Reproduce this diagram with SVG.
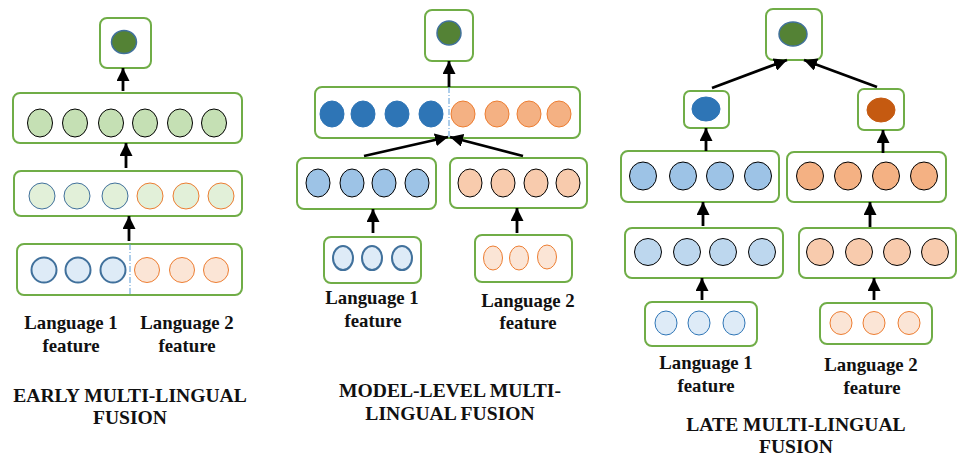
<svg xmlns="http://www.w3.org/2000/svg" width="959" height="459" viewBox="0 0 959 459">
  <style>
    .box { fill: #ffffff; stroke: #70ad47; stroke-width: 2; }
    .out { fill: #548235; stroke: #41719c; stroke-width: 1.5; }
    .c-k { stroke: #000000; stroke-width: 1; }
    .lbl { font-family: "Liberation Serif", "Times New Roman", serif; font-weight: bold; font-size: 18.8px; fill: #111111; text-anchor: middle; }
    .ttl { font-family: "Liberation Serif", "Times New Roman", serif; font-weight: bold; font-size: 19.6px; fill: #111111; text-anchor: middle; }
    .arr { stroke: #000000; stroke-width: 2.8; fill: none; marker-end: url(#head); }
    .split { stroke: #5b9bd5; stroke-width: 1; stroke-dasharray: 6 2 1 2; fill: none; }
  </style>
  <defs>
    <marker id="head" viewBox="0 0 10 10" refX="10" refY="5" markerUnits="userSpaceOnUse" markerWidth="13" markerHeight="13" orient="auto">
      <path d="M0,0 L10,5 L0,10 z" fill="#000000"/>
    </marker>
  </defs>
  <rect width="959" height="459" fill="#ffffff"/>

  <!-- ===== Early fusion ===== -->
  <g id="early-output">
    <rect class="box" x="100" y="18" width="51" height="50" rx="7"/>
    <ellipse class="out" cx="124" cy="42" rx="12.5" ry="11.5"/>
  </g>
  <g id="early-fused">
    <rect class="box" x="13" y="93" width="229" height="50" rx="7"/>
    <g class="c-k" fill="#c5e0b4">
      <ellipse cx="40" cy="123" rx="12.5" ry="14"/>
      <ellipse cx="75" cy="123" rx="12.5" ry="14"/>
      <ellipse cx="111" cy="123" rx="12.5" ry="14"/>
      <ellipse cx="145" cy="123" rx="12.5" ry="14"/>
      <ellipse cx="180" cy="123" rx="12.5" ry="14"/>
      <ellipse cx="214" cy="123" rx="12.5" ry="14"/>
    </g>
  </g>
  <g id="early-hidden">
    <rect class="box" x="14" y="171" width="228" height="45" rx="7"/>
    <g fill="#e2f0d9" stroke-width="1">
      <ellipse cx="42" cy="196" rx="13" ry="13" stroke="#41719c"/>
      <ellipse cx="77" cy="196" rx="13" ry="13" stroke="#41719c"/>
      <ellipse cx="115" cy="196" rx="13" ry="13" stroke="#41719c"/>
      <ellipse cx="150" cy="196" rx="13" ry="13" stroke="#ed7d31"/>
      <ellipse cx="186" cy="196" rx="13" ry="13" stroke="#ed7d31"/>
      <ellipse cx="221" cy="196" rx="13" ry="13" stroke="#ed7d31"/>
    </g>
  </g>
  <g id="early-input">
    <rect class="box" x="17" y="244" width="225" height="51" rx="7"/>
    <g fill="#deebf7" stroke="#41719c" stroke-width="2">
      <ellipse cx="44" cy="270" rx="12.5" ry="12.5"/>
      <ellipse cx="78" cy="270" rx="12.5" ry="12.5"/>
      <ellipse cx="113" cy="270" rx="12.5" ry="12.5"/>
    </g>
    <g fill="#fbe5d6" stroke="#ed7d31" stroke-width="1">
      <ellipse cx="147" cy="270" rx="12.5" ry="12.5"/>
      <ellipse cx="182" cy="270" rx="12.5" ry="12.5"/>
      <ellipse cx="216" cy="270" rx="12.5" ry="12.5"/>
    </g>
    <line class="split" x1="130" y1="244" x2="130" y2="295"/>
  </g>
  <g id="early-labels">
    <text class="lbl" x="71" y="329">Language 1</text>
    <text class="lbl" x="71" y="352">feature</text>
    <text class="lbl" x="187" y="329">Language 2</text>
    <text class="lbl" x="187" y="352">feature</text>
    <text class="ttl" x="130" y="402">EARLY MULTI-LINGUAL</text>
    <text class="ttl" x="130" y="424">FUSION</text>
  </g>

  <!-- ===== Model-level fusion ===== -->
  <g id="model-output">
    <rect class="box" x="425" y="10" width="48" height="51" rx="7"/>
    <ellipse class="out" cx="449" cy="33" rx="12" ry="12"/>
  </g>
  <g id="model-fused">
    <rect class="box" x="315" y="87" width="265" height="51" rx="7"/>
    <g fill="#2e75b6" stroke="#2e75b6" stroke-width="1">
      <ellipse cx="332" cy="114" rx="12" ry="13"/>
      <ellipse cx="363" cy="114" rx="12" ry="13"/>
      <ellipse cx="397" cy="114" rx="12" ry="13"/>
      <ellipse cx="431" cy="114" rx="12" ry="13"/>
    </g>
    <g fill="#f4b183" stroke="#ed7d31" stroke-width="1">
      <ellipse cx="463" cy="114" rx="12" ry="13"/>
      <ellipse cx="497" cy="114" rx="12" ry="13"/>
      <ellipse cx="529" cy="114" rx="12" ry="13"/>
      <ellipse cx="559" cy="114" rx="12" ry="13"/>
    </g>
    <line class="split" x1="449" y1="87" x2="449" y2="138"/>
  </g>
  <g id="model-hidden-1">
    <rect class="box" x="297" y="158" width="139" height="51" rx="7"/>
    <g class="c-k" fill="#9dc3e6">
      <ellipse cx="318" cy="183" rx="12" ry="14"/>
      <ellipse cx="352" cy="183" rx="12" ry="14"/>
      <ellipse cx="384" cy="183" rx="12" ry="14"/>
      <ellipse cx="417" cy="183" rx="12" ry="14"/>
    </g>
  </g>
  <g id="model-hidden-2">
    <rect class="box" x="450" y="158" width="137" height="50" rx="7"/>
    <g class="c-k" fill="#f8cbad">
      <ellipse cx="470" cy="183" rx="12" ry="14"/>
      <ellipse cx="503" cy="183" rx="12" ry="14"/>
      <ellipse cx="536" cy="183" rx="12" ry="14"/>
      <ellipse cx="568" cy="183" rx="12" ry="14"/>
    </g>
  </g>
  <g id="model-input-1">
    <rect class="box" x="324" y="237" width="97" height="46" rx="7"/>
    <g fill="#deebf7" stroke="#41719c" stroke-width="2">
      <ellipse cx="343" cy="258" rx="10" ry="12"/>
      <ellipse cx="372" cy="258" rx="10" ry="12"/>
      <ellipse cx="402" cy="258" rx="10" ry="12"/>
    </g>
  </g>
  <g id="model-input-2">
    <rect class="box" x="475" y="235" width="97" height="47" rx="7"/>
    <g fill="#fbe5d6" stroke="#ed7d31" stroke-width="1">
      <ellipse cx="493" cy="258" rx="9.5" ry="12"/>
      <ellipse cx="519" cy="258" rx="9.5" ry="12"/>
      <ellipse cx="547" cy="257" rx="9.5" ry="12"/>
    </g>
  </g>
  <g id="model-labels">
    <text class="lbl" x="372" y="304">Language 1</text>
    <text class="lbl" x="373" y="327">feature</text>
    <text class="lbl" x="528" y="307">Language 2</text>
    <text class="lbl" x="528" y="329">feature</text>
    <text class="ttl" x="450" y="397">MODEL-LEVEL MULTI-</text>
    <text class="ttl" x="450" y="420">LINGUAL FUSION</text>
  </g>

  <!-- ===== Late fusion ===== -->
  <g id="late-output">
    <rect class="box" x="766" y="9" width="56" height="51" rx="7"/>
    <ellipse class="out" cx="793" cy="34" rx="14" ry="12"/>
  </g>
  <g id="late-decision-1">
    <rect class="box" x="684" y="91" width="45" height="37" rx="6"/>
    <ellipse cx="706" cy="109" rx="14" ry="12" fill="#2e75b6" stroke="#2e75b6" stroke-width="1"/>
  </g>
  <g id="late-decision-2">
    <rect class="box" x="858" y="89" width="46" height="41" rx="6"/>
    <ellipse cx="881" cy="110" rx="14" ry="12" fill="#c55a11" stroke="#c55a11" stroke-width="1"/>
  </g>
  <g id="late-hidden-1b">
    <rect class="box" x="621" y="151" width="158" height="51" rx="7"/>
    <g class="c-k" fill="#9dc3e6">
      <ellipse cx="643" cy="176" rx="13.5" ry="14"/>
      <ellipse cx="683" cy="176" rx="13.5" ry="14"/>
      <ellipse cx="720" cy="176" rx="13.5" ry="14"/>
      <ellipse cx="758" cy="176" rx="13.5" ry="14"/>
    </g>
  </g>
  <g id="late-hidden-2b">
    <rect class="box" x="787" y="152" width="159" height="50" rx="7"/>
    <g class="c-k" fill="#f4b183">
      <ellipse cx="810" cy="176" rx="13.5" ry="14"/>
      <ellipse cx="848" cy="176" rx="13.5" ry="14"/>
      <ellipse cx="886" cy="176" rx="13.5" ry="14"/>
      <ellipse cx="924" cy="176" rx="13.5" ry="14"/>
    </g>
  </g>
  <g id="late-hidden-1a">
    <rect class="box" x="625" y="228" width="158" height="50" rx="7"/>
    <g class="c-k" fill="#bdd7ee">
      <ellipse cx="648" cy="252" rx="13.5" ry="13.5"/>
      <ellipse cx="687" cy="252" rx="13.5" ry="13.5"/>
      <ellipse cx="723" cy="252" rx="13.5" ry="13.5"/>
      <ellipse cx="762" cy="252" rx="13.5" ry="13.5"/>
    </g>
  </g>
  <g id="late-hidden-2a">
    <rect class="box" x="799" y="228" width="157" height="50" rx="7"/>
    <g class="c-k" fill="#f8cbad">
      <ellipse cx="820" cy="252" rx="13.5" ry="13.5"/>
      <ellipse cx="859" cy="252" rx="13.5" ry="13.5"/>
      <ellipse cx="897" cy="252" rx="13.5" ry="13.5"/>
      <ellipse cx="935" cy="252" rx="13.5" ry="13.5"/>
    </g>
  </g>
  <g id="late-input-1">
    <rect class="box" x="645" y="302" width="112" height="44" rx="7"/>
    <g fill="#deebf7" stroke="#2e75b6" stroke-width="1">
      <ellipse cx="666" cy="323" rx="11" ry="12"/>
      <ellipse cx="699" cy="323" rx="11" ry="12"/>
      <ellipse cx="734" cy="323" rx="11" ry="12"/>
    </g>
  </g>
  <g id="late-input-2">
    <rect class="box" x="820" y="303" width="112" height="41" rx="7"/>
    <g fill="#fbe5d6" stroke="#ed7d31" stroke-width="1">
      <ellipse cx="841" cy="323" rx="11" ry="11.5"/>
      <ellipse cx="874" cy="323" rx="11" ry="11.5"/>
      <ellipse cx="909" cy="323" rx="11" ry="11.5"/>
    </g>
  </g>
  <g id="late-labels">
    <text class="lbl" x="706" y="369">Language 1</text>
    <text class="lbl" x="706" y="392">feature</text>
    <text class="lbl" x="871" y="371">Language 2</text>
    <text class="lbl" x="872" y="394">feature</text>
    <text class="ttl" x="796" y="431">LATE MULTI-LINGUAL</text>
    <text class="ttl" x="796" y="453">FUSION</text>
  </g>

  <!-- ===== Connectors ===== -->
  <g id="connectors">
    <line class="arr" x1="123" y1="91" x2="123" y2="68"/>
    <line class="arr" x1="126" y1="168" x2="126" y2="143"/>
    <line class="arr" x1="129" y1="241" x2="129" y2="216"/>

    <line class="arr" x1="449" y1="87" x2="449" y2="61"/>
    <line class="arr" x1="364" y1="156" x2="448" y2="137"/>
    <line class="arr" x1="523" y1="156" x2="450" y2="137"/>
    <line class="arr" x1="373" y1="233" x2="373" y2="209"/>
    <line class="arr" x1="517" y1="233" x2="517" y2="208"/>

    <line class="arr" x1="712" y1="88" x2="787" y2="60"/>
    <line class="arr" x1="877" y1="87" x2="804" y2="60"/>
    <line class="arr" x1="706" y1="151" x2="706" y2="128"/>
    <line class="arr" x1="883" y1="153" x2="883" y2="130"/>
    <line class="arr" x1="703" y1="226" x2="703" y2="202"/>
    <line class="arr" x1="870" y1="227" x2="870" y2="202"/>
    <line class="arr" x1="702" y1="300" x2="702" y2="278"/>
    <line class="arr" x1="874" y1="300" x2="874" y2="278"/>
  </g>
</svg>
